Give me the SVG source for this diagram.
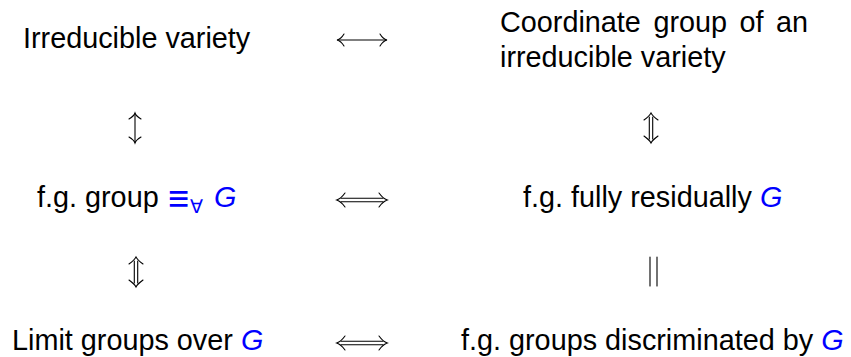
<svg xmlns="http://www.w3.org/2000/svg" width="851" height="357" viewBox="0 0 851 357">
<style>
text{font-family:"Liberation Sans",Arial,Helvetica,sans-serif;font-size:28.8px;fill:#000}
.b{fill:#0000ff}
.i{font-style:italic}
text.eq{font-size:26px}
text.sub{font-size:19px}
.c{fill:none;stroke:#000;stroke-width:1.1;stroke-linecap:round}
</style>
<rect width="851" height="357" fill="#fff"/>
<g id="n-irreducible-variety"><text x="23" y="48">Irreducible variety</text></g>
<g id="n-coordinate-group"><text x="500" y="32" word-spacing="4.5">Coordinate group of an</text><text x="500" y="67">irreducible variety</text></g>
<g id="n-fg-equiv"><text x="37" y="207">f.g. group</text><text class="b eq" transform="translate(168,211) scale(1.4,1.45)">≡</text><text class="b sub" x="189.5" y="213">∀</text><text class="b i" x="214" y="207">G</text></g>
<g id="n-fully-residually"><text x="523" y="207">f.g. fully residually <tspan class="b i">G</tspan></text></g>
<g id="n-limit-groups"><text x="12" y="350">Limit groups over <tspan class="b i">G</tspan></text></g>
<g id="n-discriminated"><text x="461" y="350">f.g. groups discriminated by <tspan class="b i">G</tspan></text></g>
<g id="connectors" class="c">
<path d="M338,40H386"/>
<path d="M344,34Q341,39 337,40Q341,41 344,46"/>
<path d="M380,34Q383,39 387,40Q383,41 380,46"/>
<path d="M341,198.3H383M341,201.7H383"/>
<path d="M345,193Q341,198.5 336.7,200Q341,201.5 345,207"/>
<path d="M379,193Q383,198.5 387.3,200Q383,201.5 379,207"/>
<path d="M341,341.3H383M341,344.7H383"/>
<path d="M345,336Q341,341.5 336.7,343Q341,344.5 345,350"/>
<path d="M379,336Q383,341.5 387.3,343Q383,344.5 379,350"/>
<path d="M135,114V142"/>
<path d="M129,119Q134,116 135,113Q136,116 141,119"/>
<path d="M129,137Q134,140 135,143Q136,140 141,137"/>
<path d="M649.3,117V139M652.7,117V139"/>
<path d="M644,120Q649.5,116 651,113Q652.5,116 658,120"/>
<path d="M644,136Q649.5,140 651,143Q652.5,140 658,136"/>
<path d="M134.3,261V283M137.7,261V283"/>
<path d="M129,264Q134.5,260 136,257Q137.5,260 143,264"/>
<path d="M129,280Q134.5,284 136,287Q137.5,284 143,280"/>
<path d="M650,257V286M657,257V286"/>
</g>
</svg>
